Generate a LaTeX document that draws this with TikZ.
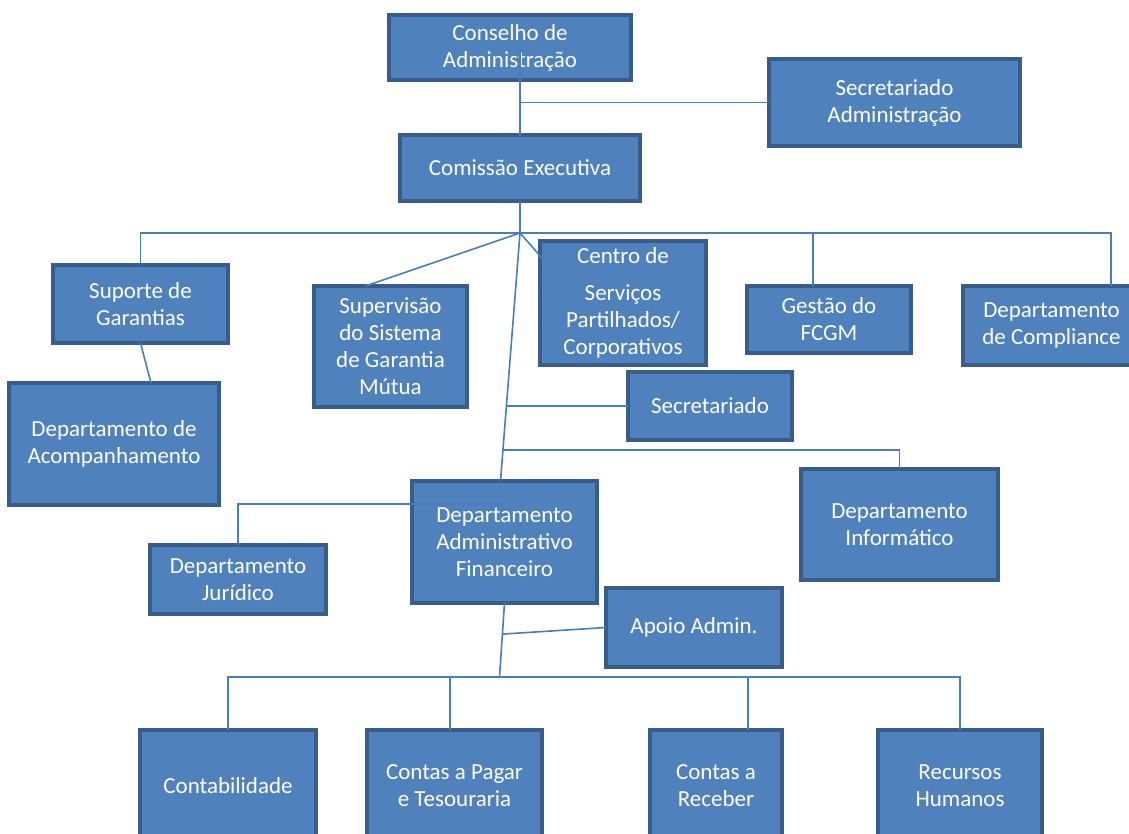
\documentclass[tikz,border=0pt]{standalone}
\usepackage{fontspec}
\setmainfont{Carlito}
\usetikzlibrary{positioning,calc}
\definecolor{boxfill}{HTML}{4F81BD}
\definecolor{boxedge}{HTML}{385D8A}
\definecolor{linkblue}{HTML}{4A7EBB}
\tikzset{
  unit/.style={rectangle, draw=boxedge, fill=boxfill, line width=3.5pt,
    text=white, align=center, inner sep=0pt, outer sep=0pt,
    font=\fontsize{23}{27}\selectfont},
  orgline/.style={draw=linkblue, line width=1.6pt}
}
\begin{document}
\begin{tikzpicture}[x=1pt,y=-1pt]

  \useasboundingbox (0,0) rectangle (1129,834);
  \clip (0,0) rectangle (1129,834);

  % Nodes

  \node[unit, minimum width=242pt, minimum height=65pt] (cons) at (510,47.5) {Conselho de\\Administração} ;
  \node[unit, minimum width=240pt, minimum height=66pt, below=of cons,below=55pt of cons,xshift=10pt] (ce) {Comissão Executiva} ; %
  \node[unit, minimum width=251pt, minimum height=87pt, right=of cons,right=138pt of cons,yshift=-55pt] (secadm) {Secretariado\\Administração} ; %
  \node[unit, minimum width=166pt, minimum height=124pt, below=of ce,below=40pt of ce,xshift=103pt] (csp) {Centro de\\[10pt]Serviços\\Partilhados/\\Corporativos} ; %
  \node[unit, minimum width=153pt, minimum height=121pt, left=of csp,left=73pt of csp,yshift=-43.5pt] (supv) {Supervisão\\do Sistema\\de Garantia\\Mútua} ; %
  \node[unit, minimum width=175pt, minimum height=78pt, left=of supv,left=86pt of supv,yshift=42.5pt] (sup) {Suporte de\\Garantias} ; %
  \node[unit, minimum width=210pt, minimum height=122pt, below=of sup,below=40pt of sup,xshift=-26.5pt] (acomp) {Departamento de\\Acompanhamento} ; %
  \node[unit, minimum width=164pt, minimum height=67pt, right=of csp,right=41pt of csp,yshift=-16.5pt] (fcgm) {Gestão do\\FCGM} ; %
  \node[unit, minimum width=177pt, minimum height=79pt, right=of fcgm,right=52pt of fcgm,yshift=-6pt] (comp) {Departamento\\de Compliance} ; %

  % More nodes
  \node[unit, minimum width=164pt, minimum height=68pt, below=of csp,below=7pt of csp,xshift=87pt] (sec) {Secretariado} ; %
  \node[unit, minimum width=197pt, minimum height=111pt, below=of sec,below=29pt of sec,xshift=189.5pt] (info) {Departamento\\Informático} ; %
  \node[unit, minimum width=185pt, minimum height=122pt, below=of supv,below=74pt of supv,xshift=114pt] (daf) {Departamento\\Administrativo\\Financeiro} ; %
  \node[unit, minimum width=176pt, minimum height=69pt, left=of daf,left=86pt of daf,yshift=-37.5pt] (jur) {Departamento\\Jurídico} ; %
  \node[unit, minimum width=176pt, minimum height=79pt, right=of daf,right=9pt of daf,yshift=-85.5pt] (apoio) {Apoio Admin.} ; %

  \node[unit, minimum width=176pt, minimum height=112pt, below=of jur,below=116pt of jur,xshift=-10pt] (cont) {Contabilidade} ; %
  \node[unit, minimum width=175pt, minimum height=112pt, right=of cont,right=51pt of cont] (cpag) {Contas a Pagar\\e Tesouraria} ; %
  \node[unit, minimum width=132pt, minimum height=112pt, right=of cpag,right=108pt of cpag] (crec) {Contas a\\Receber} ; %
  \node[unit, minimum width=164pt, minimum height=112pt, right=of crec,right=96pt of crec] (rh) {Recursos\\Humanos} ; %

  % Links

  \coordinate (top) at (cons.center -| ce.center) ;
  \coordinate (ceIn) at ([yshift=-20pt]ce.north) ;
  \coordinate (hub) at ([yshift=-32pt]ce.south) ;
  \coordinate (fcgmDrop) at ([xshift=-16pt]fcgm.north) ;
  \coordinate (compDrop) at ([xshift=59.5pt]comp.north) ;
  \coordinate (dafTop) at ([xshift=-4pt]daf.north) ;
  \coordinate (secOff) at ($(hub)!0.698!(dafTop)$) ;
  \coordinate (infoOff) at ($(hub)!0.875!(dafTop)$) ;
  \coordinate (jurUp) at ([yshift=41pt]jur.north) ;
  \coordinate (low) at ([xshift=-5pt,yshift=-74pt]daf.south) ;

  \draw[orgline] (top) -- (ceIn) ; %
  \draw[orgline] (top |- secadm.west) -- (secadm.west) ; %
  \draw[orgline] (ce.south) -- (hub) ; %
  \draw[orgline] (sup.north) |- (compDrop |- hub) -- (compDrop) ; %
  \draw[orgline] (fcgmDrop |- hub) -- (fcgmDrop) ; %
  \draw[orgline] (hub) -- ([xshift=-25pt]supv.north) ; %
  \draw[orgline] (hub) -- ([xshift=-66pt,yshift=-34pt]csp.north) ; %
  \draw[orgline] (hub) -- (dafTop) ; %
  \draw[orgline] (secOff) -- (secOff -| sec.west) ; %
  \draw[orgline] (infoOff) -| (info.north) ; %
  \draw[orgline] (sup.south) -- ([xshift=37pt]acomp.north) ; %
  \draw[orgline] (jur.north) -- (jurUp) -- (jurUp -| daf.north) ; %

  \draw[orgline] (daf.south) -- (low) ; %
  \draw[orgline] ($(daf.south)!0.42!(low)$) -- (apoio.west) ; %
  \draw[orgline] (cont.north) |- (rh.north |- low) -- (rh.north) ; %
  \draw[orgline] ([xshift=-4.5pt]cpag.north) -- ([xshift=-4.5pt]cpag.north |- low) ; %
  \draw[orgline] ([xshift=32pt]crec.north) -- ([xshift=32pt]crec.north |- low) ; %

\end{tikzpicture}
\end{document}
